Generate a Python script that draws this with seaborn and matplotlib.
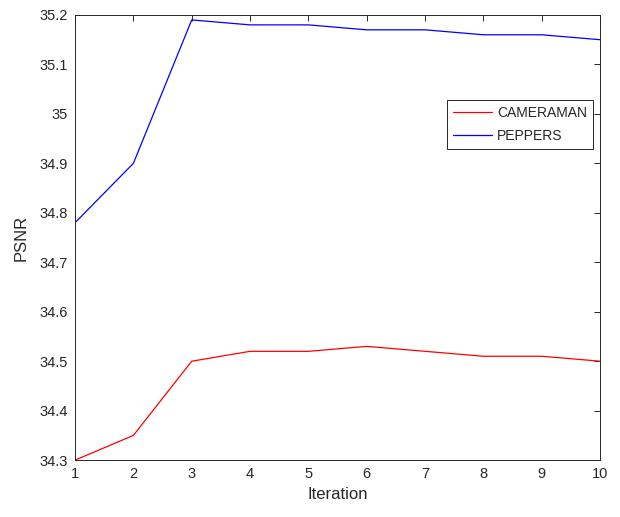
import pandas as pd
import seaborn as sns
import matplotlib
matplotlib.use('Agg')
import matplotlib.pyplot as plt

# values
iterations = [1, 2, 3, 4, 5, 6, 7, 8, 9, 10]
cameraman = [34.30, 34.35, 34.50, 34.52, 34.52, 34.53, 34.52, 34.51, 34.51, 34.50]
peppers = [34.78, 34.90, 35.19, 35.18, 35.18, 35.17, 35.17, 35.16, 35.16, 35.15]
y_ticks = [34.3, 34.4, 34.5, 34.6, 34.7, 34.8, 34.9, 35.0, 35.1, 35.2]
y_tick_labels = ['34.3', '34.4', '34.5', '34.6', '34.7', '34.8', '34.9', '35', '35.1', '35.2']

df = pd.DataFrame({
    'Iteration': iterations * 2,
    'PSNR': cameraman + peppers,
    'image': ['CAMERAMAN'] * len(iterations) + ['PEPPERS'] * len(iterations),
})

sns.set_style('white')
plt.rcParams['font.family'] = ['Liberation Sans', 'DejaVu Sans']

fig = plt.figure(figsize=(6.2, 5.17), dpi=100)
ax = fig.add_axes([0.121, 0.110, 0.847, 0.861])

sns.lineplot(data=df, x='Iteration', y='PSNR', hue='image',
             palette={'CAMERAMAN': '#ff0000', 'PEPPERS': '#0000ff'},
             linewidth=0.9, ax=ax)

ax.set_xlim(1, 10)
ax.set_ylim(34.3, 35.2)
ax.set_xticks(iterations)
ax.set_yticks(y_ticks)
ax.set_yticklabels(y_tick_labels)
ax.tick_params(direction='in', length=4, width=0.7, top=True, right=True,
               labelsize=10.5, colors='#262626', labelcolor='#262626', pad=5)
for side in ax.spines.values():
    side.set_color('#262626')
    side.set_linewidth(0.7)

ax.set_xlabel('Iteration', fontsize=12, color='#262626')
ax.set_ylabel('PSNR', fontsize=12, color='#262626', labelpad=8)

leg = ax.legend(loc='upper right', bbox_to_anchor=(0.987, 0.81), fontsize=10,
                frameon=True, fancybox=False, borderaxespad=0, handlelength=2.8,
                borderpad=0.45, labelspacing=0.65, handletextpad=0.35)
leg.get_frame().set_edgecolor('#262626')
leg.get_frame().set_linewidth(0.7)
leg.get_frame().set_alpha(1)

fig.savefig('out.png', dpi=100, facecolor='white')
